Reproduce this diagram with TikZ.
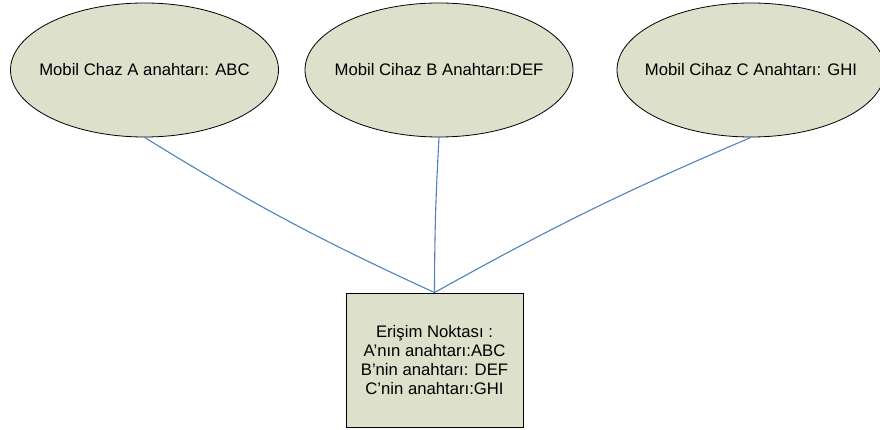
\documentclass[tikz,border=0pt]{standalone}
\usepackage{fontspec}
\setmainfont{Liberation Sans}
\usetikzlibrary{shapes.geometric}
\definecolor{devfill}{HTML}{DDE1CB}
\definecolor{linkblue}{HTML}{4F81BD}
\tikzset{
  device/.style={ellipse, draw=black, line width=0.8pt, fill=devfill,
    minimum width=268pt, minimum height=134pt, inner sep=0pt},
  devlabel/.style={inner sep=0pt, font=\fontsize{16.7}{19.3}\selectfont},
  apbox/.style={rectangle, draw=black, line width=0.9pt, fill=devfill,
    minimum width=177pt, minimum height=134pt, inner sep=0pt,
    align=center, font=\fontsize{16.7}{19.3}\selectfont},
  link/.style={draw=linkblue, line width=1.1pt}
}
\begin{document}
\begin{tikzpicture}[x=1pt, y=-1pt]
  \useasboundingbox (0,0) rectangle (880,430);
  \clip (0,0) rectangle (880,430);
  % mobile devices
  \node[device] (ma) at (144.5,70) {};
  \node[device] (mb) at (439,70) {};
  \node[device] (mc) at (751,70) {};
  \node[devlabel] (ta) at (ma.center) {Mobil Chaz A anahtarı: ABC};
  \node[devlabel] (tb) at (mb.center) {Mobil Cihaz B Anahtarı:DEF};
  \node[devlabel] (tc) at (mc.center) {Mobil Cihaz C Anahtarı: GHI};
  % access point
  \node[apbox] (ap) at (434.5,360) {Erişim Noktası :\\A’nın anahtarı:ABC\\B’nin anahtarı: DEF\\C’nin anahtarı:GHI};
  % links
  \draw[link] (ma.south) to[bend right=3.5] (ap.north);
  \draw[link] (mb.south) to[bend right=1.5] (ap.north);
  \draw[link] (mc.south) to[bend right=3] (ap.north);
\end{tikzpicture}
\end{document}
